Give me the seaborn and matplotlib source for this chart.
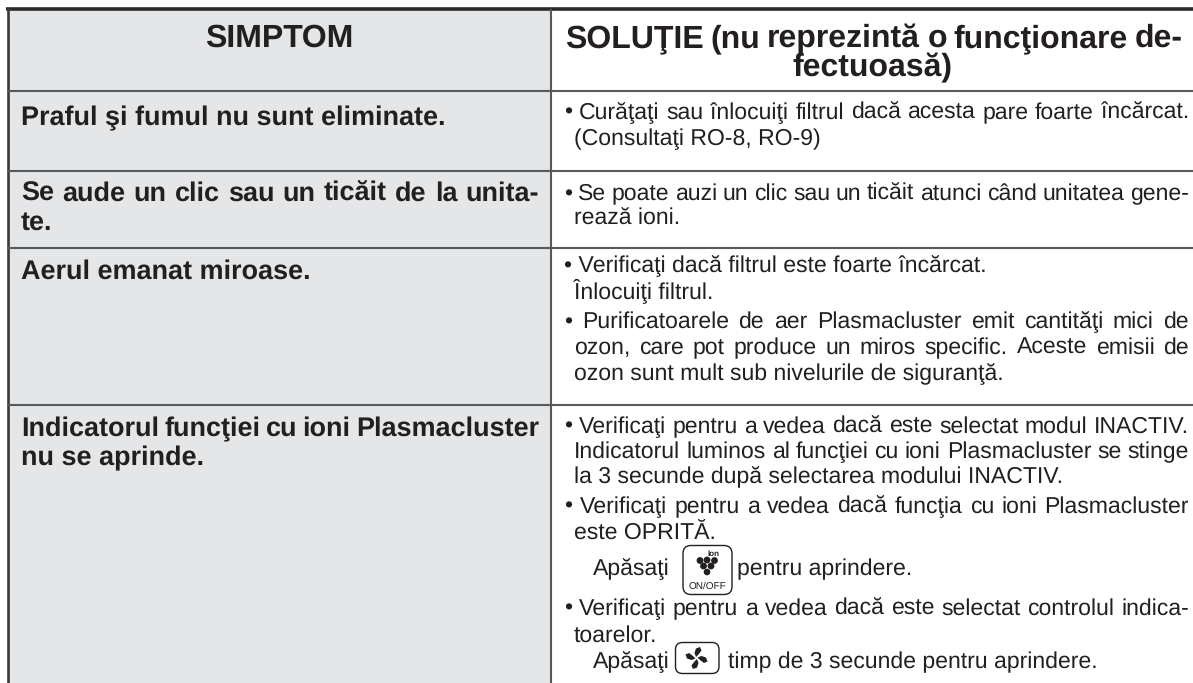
import matplotlib

matplotlib.use("Agg")

import matplotlib.pyplot as plt
import numpy as np
import seaborn as sns
from matplotlib.patches import Circle, FancyBboxPatch, Polygon

# table text, one list per column/row, True = line is justified to the full width
HEADER_LEFT = "SIMPTOM"
HEADER_RIGHT = ["SOLUŢIE (nu reprezintă o funcţionare de-", "fectuoasă)"]

SYMPTOMS = [
    ["Praful şi fumul nu sunt eliminate."],
    ["Se aude un clic sau un ticăit de la unita-", "te."],
    ["Aerul emanat miroase."],
    ["Indicatorul funcţiei cu ioni Plasmacluster", "nu se aprinde."],
]
SYMPTOM_JUSTIFY = [[False], [True, False], [False], [True, False]]

SOLUTIONS = [
    ("• Curăţaţi sau înlocuiţi filtrul dacă acesta pare foarte încărcat.", True),
    ("(Consultaţi RO-8, RO-9)", False),
    ("• Se poate auzi un clic sau un ticăit atunci când unitatea gene-", True),
    ("rează ioni.", False),
    ("• Verificaţi dacă filtrul este foarte încărcat.", False),
    ("Înlocuiţi filtrul.", False),
    ("• Purificatoarele de aer Plasmacluster emit cantităţi mici de", True),
    ("ozon, care pot produce un miros specific. Aceste emisii de", True),
    ("ozon sunt mult sub nivelurile de siguranţă.", False),
    ("• Verificaţi pentru a vedea dacă este selectat modul INACTIV.", True),
    ("Indicatorul luminos al funcţiei cu ioni Plasmacluster se stinge", True),
    ("la 3 secunde după selectarea modului INACTIV.", False),
    ("• Verificaţi pentru a vedea dacă funcţia cu ioni Plasmacluster", True),
    ("este OPRITĂ.", False),
    ("• Verificaţi pentru a vedea dacă este selectat controlul indica-", True),
    ("toarelor.", False),
]
PRESS_WORD = "Apăsaţi"
PRESS_ION = "pentru aprindere."
PRESS_FAN = "timp de 3 secunde pentru aprindere."
ICON_ION_TOP = "Ion"
ICON_ION_BOTTOM = "ON/OFF"

# layout, in image pixels
WIDTH, HEIGHT = 1193, 683
COL_LEFT, COL_MID = 8, 551
ROW_LINES = [91, 171, 248, 405]
SYMPTOM_BASE = [[125], [201, 230], [279], [436, 465]]
SOLUTION_BASE = [119, 145, 200, 225, 272, 298, 328, 354, 380, 433, 458, 483, 513, 540, 615, 642]

INK = "#231f20"
RULE = "#58595b"
SHADE = "#e5e6e8"
BODY_PX, BOLD_PX, HEAD_PX = 22.7, 26.5, 32

sns.set_theme(style="white")
plt.rcParams["font.family"] = ["Liberation Sans", "DejaVu Sans"]
plt.rcParams["text.hinting"] = "no_hinting"
plt.rcParams["text.hinting_factor"] = 1

fig = plt.figure(figsize=(WIDTH / 100, HEIGHT / 100), dpi=100)

shade_ax = fig.add_axes([COL_LEFT / WIDTH, 0, (COL_MID - COL_LEFT) / WIDTH, (HEIGHT - 9) / HEIGHT])
sns.heatmap(np.zeros((5, 1)), cmap=[SHADE], cbar=False, xticklabels=False, yticklabels=False, ax=shade_ax)

ax = fig.add_axes([0, 0, 1, 1])
ax.patch.set_alpha(0)
ax.set_xlim(0, WIDTH)
ax.set_ylim(HEIGHT, 0)
ax.axis("off")
renderer = fig.canvas.get_renderer()


def text_width(text, px, weight):
    item = ax.text(0, 0, text, fontsize=px * 0.72, fontweight=weight)
    width = item.get_window_extent(renderer).width
    item.remove()
    return width


def put_line(text, x0, x1, y, px=BODY_PX, weight="normal", justify=False):
    if not justify:
        ax.text(x0, y, text, fontsize=px * 0.72, fontweight=weight, color=INK, va="baseline")
        return
    words = text.split(" ")
    widths = [text_width(word, px, weight) for word in words]
    gap = (x1 - x0 - sum(widths)) / (len(words) - 1)
    x = x0
    for word, width in zip(words, widths):
        ax.text(x, y, word, fontsize=px * 0.72, fontweight=weight, color=INK, va="baseline")
        x += width + gap


# rules
ax.plot([6, WIDTH], [8.5, 8.5], color="#2b2a2b", lw=2.6, solid_capstyle="butt")
ax.plot([COL_LEFT, COL_LEFT], [8, HEIGHT], color="#3a3a3c", lw=1.9, solid_capstyle="butt")
ax.plot([COL_MID, COL_MID], [9, HEIGHT], color=RULE, lw=1.5, solid_capstyle="butt")
for y in ROW_LINES:
    ax.plot([COL_LEFT, WIDTH], [y, y], color=RULE, lw=1.5, solid_capstyle="butt")

# header
ax.text((COL_LEFT + COL_MID) / 2, 47, HEADER_LEFT, fontsize=HEAD_PX * 0.72, fontweight="bold",
        color=INK, ha="center", va="baseline")
put_line(HEADER_RIGHT[0], 565, 1183, 47, HEAD_PX, "bold", True)
ax.text((COL_MID + WIDTH) / 2, 76, HEADER_RIGHT[1], fontsize=HEAD_PX * 0.72, fontweight="bold",
        color=INK, ha="center", va="baseline")

# left column
for lines, flags, bases in zip(SYMPTOMS, SYMPTOM_JUSTIFY, SYMPTOM_BASE):
    for line, flag, y in zip(lines, flags, bases):
        put_line(line, 21, 539, y, BOLD_PX, "bold", flag)

# right column
for (line, flag), y in zip(SOLUTIONS, SOLUTION_BASE):
    x0 = 564 if line.startswith("•") else 574
    put_line(line, x0, 1189, y, justify=flag)

put_line(PRESS_WORD, 593, 1189, 575)
put_line(PRESS_ION, 737, 1189, 575)
put_line(PRESS_WORD, 593, 1189, 668)
put_line(PRESS_FAN, 728, 1189, 668)

# ion button
ax.add_patch(FancyBboxPatch((683, 545.5), 49, 49, boxstyle="round,pad=0,rounding_size=8",
                            fc="white", ec=INK, lw=1.0))
for cx, cy, r in [(700, 560.5, 2.7), (707, 560, 2.7), (714.5, 560.5, 2.7),
                  (703.5, 566, 2.7), (711, 566, 2.7), (707, 572, 2.6)]:
    ax.add_patch(Circle((cx, cy), r, color=INK))
ax.text(713.5, 554, ICON_ION_TOP, fontsize=6, fontweight="bold", color=INK, ha="center", va="center")
ax.text(707, 586, ICON_ION_BOTTOM, fontsize=7.5, color=INK, ha="center", va="center")

# fan button
ax.add_patch(FancyBboxPatch((675.5, 642.5), 43.5, 31, boxstyle="round,pad=0,rounding_size=7",
                            fc="white", ec=INK, lw=1.0))
blade = np.array([[-0.5, -1], [-2, -5], [-0.5, -9.5], [3.5, -11], [5, -7.5], [2, -3.5]])
for k in range(4):
    turn = np.pi / 2 * k
    rot = np.array([[np.cos(turn), -np.sin(turn)], [np.sin(turn), np.cos(turn)]])
    ax.add_patch(Polygon(blade @ rot.T + [696.5, 658], closed=True, fc=INK, ec="none"))

fig.savefig("out.png", dpi=100)
